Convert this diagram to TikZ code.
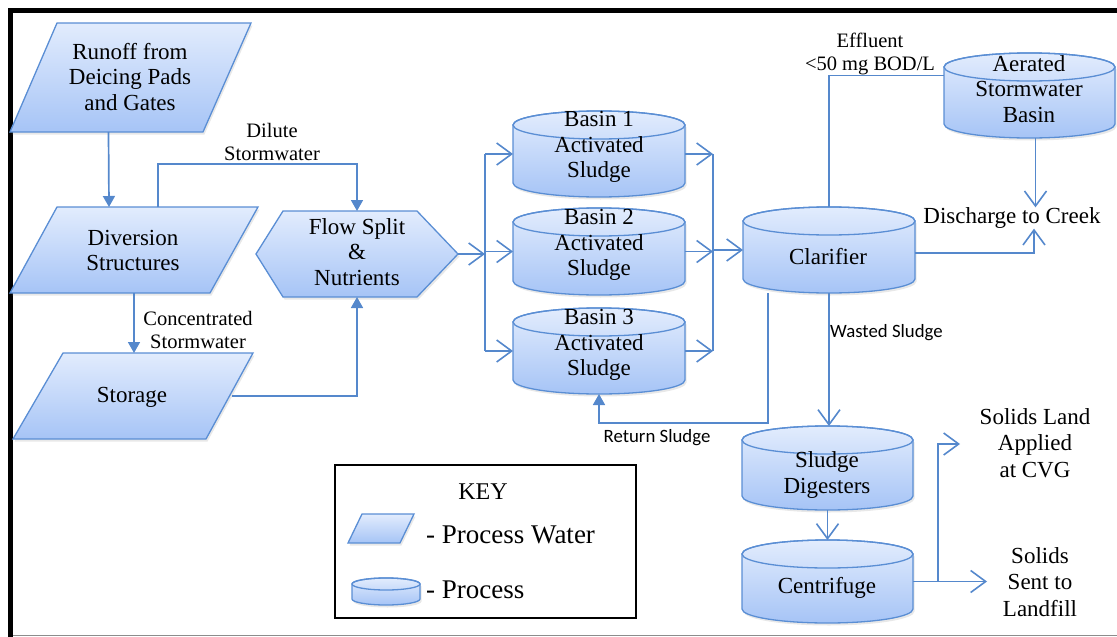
\documentclass[tikz,border=0pt]{standalone}
\usepackage{fontspec}
\setmainfont{Liberation Serif}
\newfontfamily\carlito{Carlito}
\usetikzlibrary{arrows.meta,calc,shadows,fit}
\definecolor{bord}{HTML}{5A8ED4}
\definecolor{lin}{HTML}{5588CC}
\definecolor{topc}{HTML}{E2ECFD}
\definecolor{botc}{HTML}{A6C4F6}
\tikzset{
 shp/.style={draw=bord, line width=1.3pt, top color=topc, bottom color=botc,
   drop shadow={opacity=.18,shadow xshift=1.5pt,shadow yshift=-2.5pt}},
 box/.style={draw=none, inner sep=0pt, outer sep=0pt},
 txt/.style={align=center, inner sep=0pt, font=\fontsize{23}{25.5}\selectfont},
 lbl/.style={align=center, inner sep=0pt, font=\fontsize{20.5}{23}\selectfont},
 sans/.style={inner sep=0pt, font=\carlito\fontsize{18.8}{22}\selectfont},
 conn/.style={draw=lin, line width=1.7pt},
 fa/.style={conn, -{Triangle[length=11pt,width=12pt]}},
 oa/.style={conn, line width=1.6pt, -{Straight Barb[length=15pt,width=22pt]}},
}
% #1 name, #2 L, #3 T, #4 R, #5 B, #6 ry
\newcommand\cyl[6]{%
 \node[fit={(#2,-#3) (#4,-#5)}, box] (#1) {};
 \path[shp] (#2,-#3-#6) -- (#2,-#5+#6)
   arc[start angle=180,end angle=360,x radius={(#4-#2)/2},y radius=#6]
   -- (#4,-#3-#6)
   arc[start angle=0,end angle=180,x radius={(#4-#2)/2},y radius=#6] -- cycle;
 \draw[draw=bord,line width=1.3pt] ({(#2+#4)/2},-#3-#6) ellipse[x radius={(#4-#2)/2},y radius=#6];
}
% #1 name, #2 TLx, #3 TRx, #4 T, #5 BLx, #6 BRx, #7 B
\newcommand\pgram[7]{%
 \node[fit={(#5,-#4) (#3,-#7)}, box] (#1) {};
 \path[shp] (#2,-#4) -- (#3,-#4) -- (#6,-#7) -- (#5,-#7) -- cycle;
}
\begin{document}
\begin{tikzpicture}[x=1pt,y=1pt]
\useasboundingbox (0,0) rectangle (1117,-637);
% frame
\draw[black!45, line width=1.5pt] (12,-635.5) -- (1117,-635.5);
\draw[black, line width=5pt] (10.5,-637) -- (10.5,-10.5) -- (1117,-10.5);

% process water shapes
\pgram{runoff}{57}{251}{23}{10}{203}{132}
\pgram{divert}{57}{258}{207}{10}{210}{293}
\pgram{storage}{63}{253}{353}{13}{206}{439}
% hexagon
\node[fit={(256,-211) (458,-297)}, box] (flow) {};
\path[shp] (283,-211) -- (417,-211) -- (458,-254) -- (417,-297) -- (283,-297) -- (256,-254) -- cycle;

% process cylinders
\cyl{b1}{513}{111}{685}{197}{14}
\cyl{b2}{513}{208}{685}{295}{14}
\cyl{b3}{513}{308}{685}{394}{14}
\cyl{clar}{743}{207}{915}{293}{14}
\cyl{aer}{944}{53}{1115}{138}{14}
\cyl{dig}{742}{426}{913}{510}{14}
\cyl{cent}{742}{540}{913}{623}{14}

% texts in shapes
\node[txt] (t-runoff) at (130,-77) {Runoff from\\Deicing Pads\\and Gates};
\node[txt] (t-divert) at (133,-250.5) {Diversion\\Structures};
\node[txt] (t-storage) at (132,-397) {Storage};
\node[txt] (t-flow) at (357,-252) {Flow Split\\\&\\Nutrients};
\node[txt] (t-b1) at (599,-147) {Basin 1\\Activated\\Sludge};
\node[txt] (t-b2) at (599,-245) {Basin 2\\Activated\\Sludge};
\node[txt] (t-b3) at (599,-345) {Basin 3\\Activated\\Sludge};
\node[txt] (t-clar) at (828,-257) {Clarifier};
\node[txt] (t-aer) at (1029,-89) {Aerated\\Stormwater\\Basin};
\node[txt] (t-dig) at (827,-475) {Sludge\\Digesters};
\node[txt] (t-cent) at (827,-588) {Centrifuge};

% free labels
\node[lbl] (l-dilute) at (272,-142) {Dilute\\Stormwater};
\node[lbl] (l-conc) at (198,-329.5) {Concentrated\\Stormwater};
\node[lbl] (l-eff) at (870,-53.5) {Effluent\\<50 mg BOD/L};
\node[txt] (disch) at (1012,-218) {Discharge to Creek};
\node[sans, anchor=west] (l-waste) at (830,-333) {Wasted Sludge};
\node[sans] (l-return) at (657,-438) {Return Sludge};
\node[txt, font=\fontsize{23}{26.5}\selectfont] (land) at (1035,-443) {Solids Land\\Applied\\at CVG};
\node[txt, font=\fontsize{23}{26.5}\selectfont] (fill) at (1040,-582) {Solids\\Sent to\\Landfill};

% connectors
\draw[fa] ([xshift=-22pt]runoff.south) -- ([xshift=-25pt]divert.north);
\draw[fa] ([xshift=24pt]divert.north) -- ++(0,43) -| (flow.north);
\draw[fa] (divert.south) -- (divert.south |- storage.north);
\draw[fa] ([xshift=-21pt]storage.east) -| (flow.south);

\coordinate (busL) at (485,-254);
\coordinate (busR) at (713,-252);
\draw[oa] (flow.east) -- (busL);
\draw[conn] (b1.west -| busL) -- (b3.west -| busL);
\draw[oa] (b1.west -| busL) -- (b1.west);
\draw[oa] (b2.west -| busL) -- (b2.west);
\draw[oa] (b3.west -| busL) -- (b3.west);
\draw[oa] (b1.east) -- (b1.east -| busR);
\draw[oa] (b2.east) -- (b2.east -| busR);
\draw[oa] (b3.east) -- (b3.east -| busR);
\draw[conn] (b1.east -| busR) -- (b3.east -| busR);
\draw[oa] (busR |- clar.west) -- (clar.west);

\draw[conn] (clar.north) |- ([yshift=20pt]aer.west);
\draw[oa] ([xshift=6pt]aer.south) -- ([xshift=6pt]aer.south |- disch.north);
\draw[oa] ([yshift=-3pt]clar.east) -| ([xshift=22pt]disch.south);

\draw[fa] ([xshift=-61pt]clar.south) -- ++(0,-130) -| (b3.south);
\draw[oa] (clar.south) -- (clar.south |- dig.north);
\draw[oa] (dig.south) -- (cent.north);

\coordinate (toFill) at (987,-582);
\coordinate (toLand) at (960,-444);
\draw[oa] (cent.east) -- (cent.east -| toFill);
\draw[oa] (938,-581.5) |- (toLand);

% key
\node[draw=black, line width=1.2pt, fit={(335,-465) (636,-618)}, inner sep=0pt] (key) {};
\node[txt, font=\fontsize{24}{26}\selectfont] (keyt) at (483,-492) {KEY};
\pgram{kpw}{362}{414}{514}{348}{400}{543}
\cyl{kpr}{352}{578}{420}{605}{6}
\node[txt, anchor=west, font=\fontsize{27}{30}\selectfont] (kpwt) at (426,-535) {- Process Water};
\node[txt, anchor=west, font=\fontsize{27}{30}\selectfont] (kprt) at (426,-590) {- Process};
\end{tikzpicture}
\end{document}
